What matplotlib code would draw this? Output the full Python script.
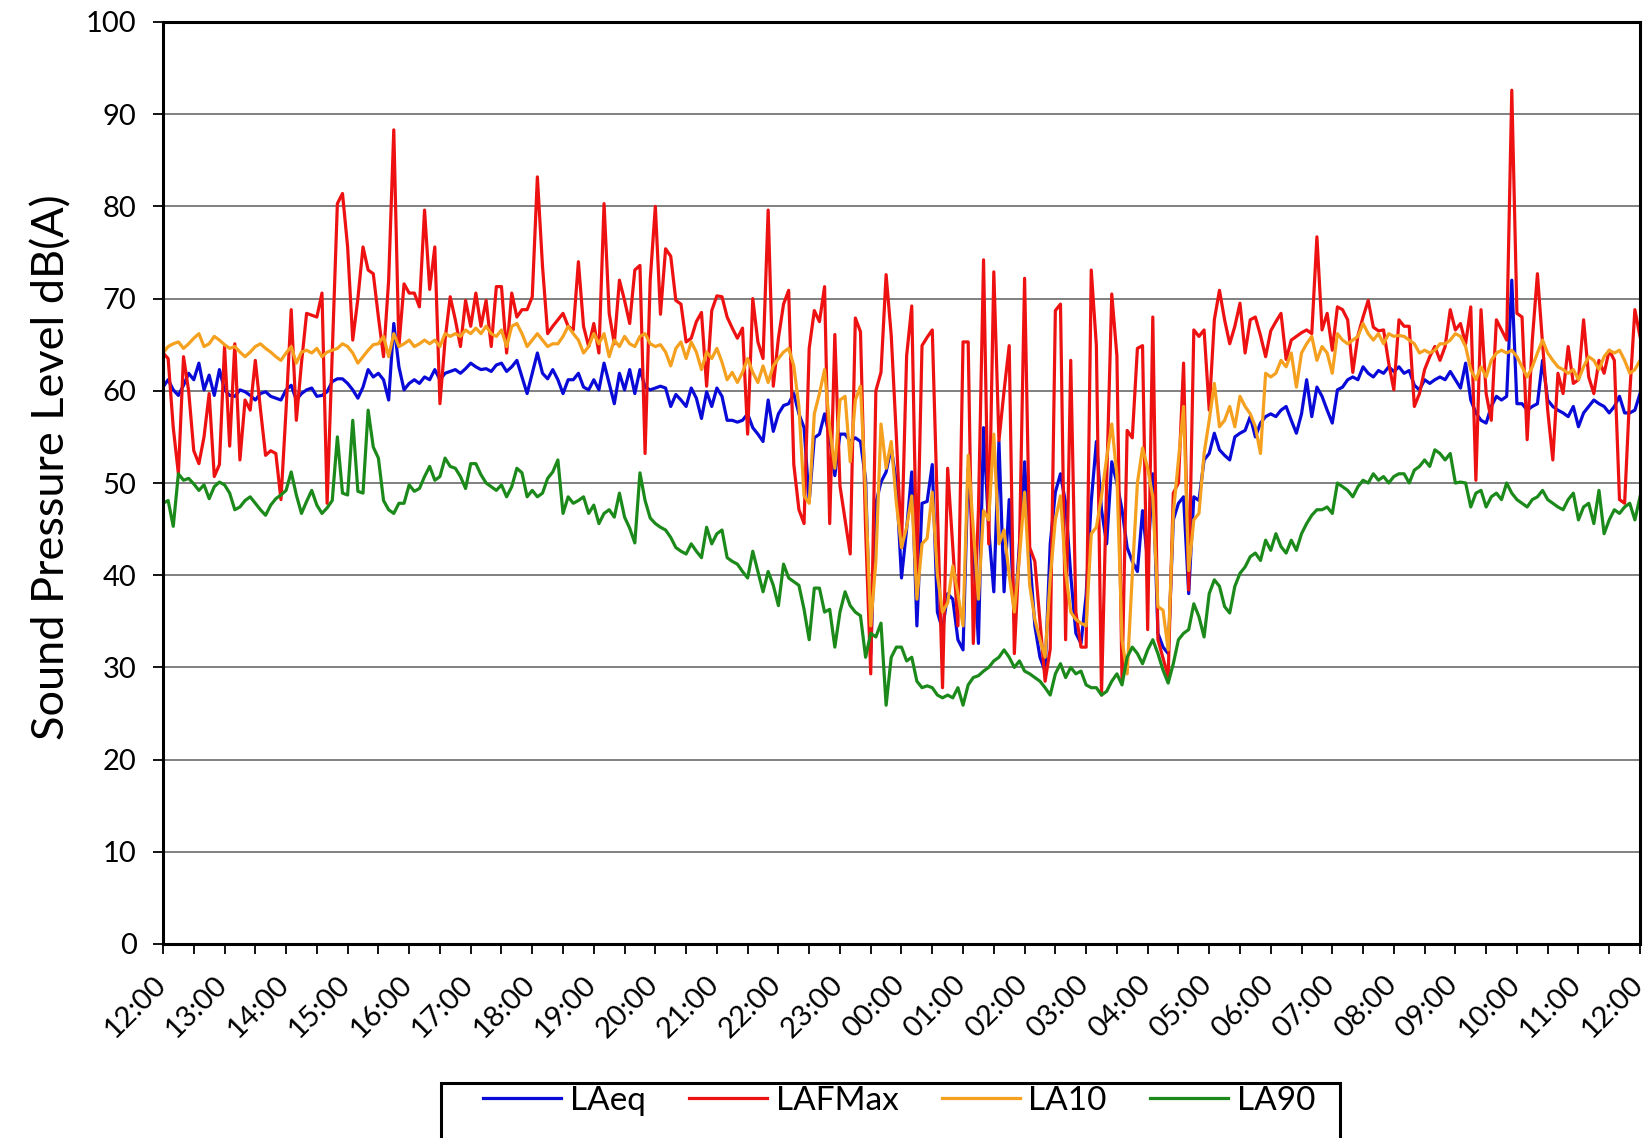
import numpy as np
import matplotlib.pyplot as plt
import matplotlib.transforms as mtransforms
from matplotlib.patches import Rectangle
from matplotlib.ticker import MultipleLocator

plt.rcParams['font.family'] = ['Lato', 'DejaVu Sans']

# 5-minute readings from 12:00 to 12:00 next day, one row per hour
laeq = [
    60.4, 61.2, 60.1, 59.5, 60.6, 61.9, 61.2, 63.0, 60.1, 61.7, 59.5, 62.3,
    60.1, 59.5, 59.4, 60.1, 59.9, 59.5, 59.0, 59.7, 59.9, 59.4, 59.2, 59.0,
    60.1, 60.6, 59.0, 59.7, 60.1, 60.3, 59.4, 59.5, 59.9, 61.0, 61.3, 61.3,
    60.8, 60.1, 59.2, 60.4, 62.3, 61.5, 61.9, 61.2, 59.0, 67.3, 62.6, 60.1,
    60.8, 61.2, 60.8, 61.5, 61.2, 62.3, 61.2, 61.9, 62.1, 62.3, 61.9, 62.4,
    63.0, 62.6, 62.3, 62.4, 62.1, 62.8, 63.0, 62.1, 62.6, 63.3, 61.5, 59.7,
    61.9, 64.1, 61.9, 61.3, 62.3, 61.2, 59.7, 61.2, 61.2, 61.9, 60.4, 60.1,
    61.2, 60.1, 63.0, 60.8, 58.6, 61.9, 60.1, 62.3, 59.7, 62.3, 60.4, 60.1,
    60.3, 60.5, 60.3, 58.3, 59.6, 59.0, 58.3, 60.3, 59.2, 57.0, 59.9, 58.3,
    60.3, 59.4, 56.8, 56.8, 56.6, 56.8, 57.5, 56.0, 55.3, 54.5, 59.0, 55.6,
    57.5, 58.4, 58.6, 59.7, 57.5, 56.0, 48.0, 54.9, 55.3, 57.5, 54.9, 50.8,
    55.3, 55.3, 54.5, 54.9, 54.5, 50.4, 31.5, 47.8, 50.1, 51.2, 53.8, 50.1,
    39.7, 45.0, 51.2, 34.5, 47.8, 48.0, 52.0, 36.0, 34.1, 38.0, 37.4, 33.0,
    31.9, 51.6, 43.4, 32.6, 56.0, 45.0, 38.2, 54.5, 38.2, 48.2, 34.9, 43.4,
    52.3, 42.0, 34.5, 31.1, 29.6, 43.4, 49.0, 51.0, 47.8, 40.0, 33.7, 32.6,
    37.8, 48.0, 54.5, 47.1, 43.4, 52.3, 50.0, 47.1, 43.0, 41.5, 40.4, 47.0,
    41.5, 51.0, 33.7, 32.2, 31.5, 46.0, 47.8, 48.5, 38.0, 48.5, 48.1, 52.5,
    53.2, 55.4, 53.6, 53.0, 52.5, 55.0, 55.4, 55.7, 57.2, 55.0, 56.5, 57.2,
    57.5, 57.2, 57.9, 58.3, 56.8, 55.4, 57.5, 61.2, 57.2, 60.4, 59.4, 57.9,
    56.5, 60.1, 60.4, 61.2, 61.5, 61.2, 62.6, 61.9, 61.5, 62.2, 61.9, 62.6,
    62.1, 62.6, 61.9, 62.2, 60.6, 60.1, 61.2, 60.8, 61.2, 61.5, 61.2, 62.1,
    61.2, 60.3, 63.0, 59.0, 57.6, 56.8, 56.5, 58.3, 59.4, 59.0, 59.4, 72.0,
    58.6, 58.6, 57.9, 58.3, 58.6, 63.3, 59.0, 58.3, 57.9, 57.6, 57.2, 58.3,
    56.1, 57.6, 58.3, 59.0, 58.6, 58.3, 57.6, 58.3, 59.4, 57.6, 57.6, 57.9,
    59.7,
]

lafmax = [
    64.1, 63.5, 56.0, 51.0, 63.7, 60.0, 53.5, 52.1, 55.0, 59.7, 50.7, 52.0,
    64.8, 54.0, 65.1, 52.5, 59.0, 57.9, 63.3, 58.0, 53.0, 53.5, 53.2, 48.2,
    58.0, 68.8, 56.8, 63.0, 68.4, 68.2, 68.0, 70.6, 47.8, 64.0, 80.3, 81.4,
    75.6, 65.5, 70.0, 75.6, 73.1, 72.7, 68.0, 63.7, 72.0, 88.3, 64.8, 71.6,
    70.6, 70.6, 69.1, 79.6, 71.0, 75.6, 58.6, 65.5, 70.2, 67.7, 64.8, 69.8,
    67.0, 70.6, 67.0, 69.8, 64.8, 71.3, 71.3, 64.1, 70.6, 68.0, 68.8, 68.8,
    70.2, 83.2, 73.5, 66.2, 67.0, 67.7, 68.4, 67.0, 66.6, 74.0, 67.0, 64.8,
    67.3, 64.1, 80.3, 68.4, 65.1, 72.0, 69.8, 67.3, 73.1, 73.6, 53.2, 72.0,
    80.0, 68.3, 75.4, 74.6, 69.8, 69.4, 65.3, 65.7, 67.5, 68.5, 60.5, 68.7,
    70.3, 70.2, 68.0, 66.8, 65.7, 66.8, 55.3, 70.0, 65.3, 63.5, 79.6, 60.5,
    65.7, 69.4, 70.9, 52.0, 47.1, 45.6, 64.6, 68.7, 67.5, 71.3, 45.6, 66.1,
    49.7, 46.0, 42.3, 67.9, 66.4, 45.0, 29.3, 60.0, 62.0, 72.6, 66.0, 55.0,
    43.0, 63.8, 69.2, 40.0, 64.9, 65.8, 66.6, 47.0, 27.8, 51.6, 43.0, 34.5,
    65.3, 65.3, 32.6, 47.0, 74.2, 43.4, 72.9, 54.6, 60.0, 64.9, 31.5, 43.0,
    72.2, 43.0, 41.5, 35.0, 28.5, 32.0, 68.7, 69.4, 33.0, 63.3, 36.0, 32.2,
    32.2, 73.1, 64.9, 27.0, 50.0, 70.5, 63.8, 28.5, 55.7, 54.9, 64.6, 64.9,
    34.1, 68.0, 33.0, 31.0, 29.0, 48.9, 50.0, 63.0, 38.4, 66.6, 65.9, 66.6,
    57.9, 67.7, 70.9, 67.7, 65.1, 67.0, 69.5, 64.1, 67.7, 68.0, 66.0, 63.7,
    66.5, 67.5, 68.4, 63.4, 65.5, 65.9, 66.3, 66.6, 66.2, 76.7, 66.6, 68.4,
    64.4, 69.1, 68.8, 67.7, 62.0, 66.0, 68.0, 69.8, 66.9, 66.5, 66.6, 63.0,
    60.1, 67.7, 67.0, 67.0, 58.3, 59.7, 62.3, 63.7, 64.8, 63.3, 64.8, 68.8,
    66.6, 67.3, 65.1, 69.1, 50.3, 68.8, 59.7, 56.8, 67.7, 66.6, 65.5, 92.6,
    68.4, 68.0, 54.7, 65.5, 72.7, 65.1, 57.9, 52.5, 61.9, 59.7, 64.8, 60.8,
    61.2, 67.7, 61.5, 59.7, 63.3, 61.9, 64.4, 63.3, 48.2, 47.8, 59.7, 68.8,
    65.9,
]

la10 = [
    64.1, 64.8, 65.1, 65.3, 64.6, 65.1, 65.7, 66.2, 64.8, 65.1, 65.9, 65.5,
    65.0, 64.6, 64.8, 64.2, 63.7, 64.2, 64.8, 65.1, 64.6, 64.2, 63.7, 63.3,
    64.1, 64.8, 63.0, 64.2, 64.4, 64.1, 64.6, 63.7, 64.2, 64.4, 64.6, 65.1,
    64.8, 64.1, 63.0, 63.7, 64.4, 65.0, 65.1, 65.9, 63.7, 66.2, 64.8, 65.1,
    65.5, 64.8, 65.1, 65.5, 65.1, 65.5, 64.8, 66.2, 65.9, 66.2, 65.9, 66.6,
    66.2, 66.8, 66.2, 67.0, 66.2, 65.9, 66.6, 64.8, 67.0, 67.3, 66.2, 64.8,
    65.5, 66.2, 65.5, 64.8, 65.1, 65.1, 65.9, 67.0, 66.2, 65.5, 64.1, 64.8,
    66.2, 65.1, 66.2, 63.7, 65.5, 64.8, 65.9, 65.1, 64.8, 65.9, 66.2, 65.1,
    64.8, 65.0, 64.2, 62.7, 64.6, 65.3, 63.5, 65.3, 64.2, 62.3, 64.2, 63.5,
    64.6, 63.1, 61.2, 62.0, 60.9, 62.0, 63.5, 62.0, 60.9, 62.7, 60.9, 62.7,
    63.5, 64.2, 64.6, 62.7, 58.3, 48.6, 47.8, 57.5, 59.7, 62.3, 56.0, 51.6,
    59.0, 59.4, 52.3, 59.0, 60.5, 49.0, 34.5, 41.5, 56.4, 51.6, 54.5, 47.8,
    43.0, 45.2, 48.6, 37.4, 43.4, 44.0, 49.0, 40.0, 36.0, 37.0, 41.0, 38.0,
    34.5, 53.0, 45.0, 37.4, 47.0, 46.0, 55.3, 43.4, 44.9, 40.0, 36.0, 42.0,
    49.0, 38.9, 35.2, 33.0, 31.1, 39.7, 46.0, 48.6, 40.4, 36.0, 35.2, 34.8,
    34.5, 44.5, 45.2, 48.6, 52.7, 56.4, 50.8, 33.0, 29.3, 40.0, 50.0, 53.8,
    51.6, 48.5, 36.6, 36.2, 31.9, 46.7, 52.5, 58.3, 40.5, 46.0, 46.7, 53.2,
    56.8, 60.8, 56.1, 56.8, 58.3, 56.1, 59.4, 58.3, 57.5, 56.1, 53.2, 61.9,
    61.5, 61.9, 63.3, 62.6, 64.1, 60.4, 64.1, 65.1, 65.9, 63.3, 64.8, 64.1,
    61.9, 66.2, 65.5, 65.1, 65.5, 65.9, 67.3, 66.2, 65.5, 66.2, 65.1, 66.2,
    65.9, 66.0, 65.9, 65.5, 65.1, 64.1, 64.4, 64.1, 64.4, 65.1, 65.1, 65.5,
    66.2, 65.9, 64.8, 62.3, 61.2, 62.6, 61.5, 63.3, 64.1, 64.4, 64.1, 64.4,
    63.7, 62.6, 61.5, 62.6, 64.1, 65.5, 64.1, 63.3, 62.6, 62.3, 61.9, 62.3,
    61.2, 62.6, 63.7, 63.3, 62.3, 63.7, 64.4, 64.1, 64.4, 63.3, 61.9, 62.3,
    63.3,
]

la90 = [
    47.8, 48.1, 45.3, 51.0, 50.3, 50.5, 49.9, 49.2, 49.8, 48.3, 49.6, 50.1,
    49.8, 48.9, 47.1, 47.4, 48.1, 48.5, 47.8, 47.1, 46.5, 47.6, 48.3, 48.7,
    49.2, 51.2, 48.7, 46.7, 48.0, 49.2, 47.6, 46.7, 47.3, 48.1, 55.0, 48.9,
    48.7, 56.8, 49.1, 48.9, 57.9, 53.9, 52.7, 48.1, 47.1, 46.7, 47.8, 47.8,
    49.8, 49.1, 49.4, 50.7, 51.8, 50.3, 50.7, 52.7, 51.8, 51.6, 50.7, 49.4,
    52.1, 52.1, 50.9, 50.0, 49.6, 49.2, 49.8, 48.5, 49.6, 51.6, 51.1, 48.5,
    49.2, 48.5, 48.9, 50.5, 51.2, 52.5, 46.7, 48.5, 47.8, 48.1, 48.5, 46.7,
    47.6, 45.6, 46.7, 47.1, 46.3, 48.9, 46.3, 45.1, 43.5, 51.1, 48.1, 46.2,
    45.6, 45.2, 44.9, 44.1, 43.0, 42.6, 42.3, 43.4, 42.6, 41.9, 45.2, 43.4,
    44.5, 44.9, 41.9, 41.5, 41.2, 40.4, 39.7, 42.6, 40.4, 38.2, 40.4, 38.9,
    36.7, 41.2, 39.7, 39.3, 38.9, 36.3, 33.0, 38.6, 38.6, 36.0, 36.3, 32.2,
    36.0, 38.2, 36.7, 36.0, 35.6, 31.1, 33.7, 33.3, 34.8, 25.9, 31.1, 32.2,
    32.2, 30.7, 31.1, 28.5, 27.8, 28.0, 27.8, 27.0, 26.7, 27.0, 26.7, 27.8,
    25.9, 28.1, 28.9, 29.1, 29.6, 30.0, 30.7, 31.1, 31.9, 31.1, 30.0, 30.7,
    29.6, 29.3, 28.9, 28.5, 27.8, 27.0, 29.3, 30.4, 28.9, 30.0, 29.3, 29.6,
    28.1, 27.8, 27.8, 27.0, 27.4, 28.5, 29.3, 28.1, 31.1, 32.2, 31.5, 30.4,
    31.9, 33.0, 31.5, 29.7, 28.3, 30.4, 33.0, 33.7, 34.1, 36.9, 35.5, 33.3,
    38.0, 39.5, 38.8, 36.6, 35.9, 38.8, 40.2, 40.9, 42.0, 42.4, 41.6, 43.8,
    42.7, 44.5, 43.1, 42.4, 43.8, 42.7, 44.5, 45.6, 46.5, 47.1, 47.1, 47.4,
    46.7, 50.0, 49.6, 49.2, 48.5, 49.6, 50.3, 50.0, 51.0, 50.3, 50.7, 50.0,
    50.7, 51.0, 51.0, 50.0, 51.4, 51.8, 52.5, 51.8, 53.6, 53.2, 52.5, 53.2,
    50.0, 50.1, 50.0, 47.4, 48.9, 49.2, 47.4, 48.5, 48.9, 48.2, 50.0, 48.9,
    48.2, 47.8, 47.4, 48.2, 48.5, 49.2, 48.2, 47.8, 47.4, 47.1, 48.2, 48.9,
    46.0, 47.4, 47.8, 45.6, 49.2, 44.5, 46.0, 47.1, 46.7, 47.4, 47.8, 46.0,
    48.5,
]

hourLabels = ['12:00', '13:00', '14:00', '15:00', '16:00', '17:00', '18:00',
              '19:00', '20:00', '21:00', '22:00', '23:00', '00:00', '01:00',
              '02:00', '03:00', '04:00', '05:00', '06:00', '07:00', '08:00',
              '09:00', '10:00', '11:00', '12:00']

fig = plt.figure(figsize=(16.49, 11.38), dpi=100)
ax = fig.add_axes([163 / 1649, 194 / 1138, 1477 / 1649, 922 / 1138])

t = np.arange(len(laeq)) * 5 / 60  # hours after 12:00
ax.plot(t, laeq, color='#0a0ad8', lw=2.3, label='LAeq')
ax.plot(t, lafmax, color='#ee1111', lw=2.3, label='LAFMax')
ax.plot(t, la10, color='#f5a01e', lw=2.3, label='LA10')
ax.plot(t, la90, color='#1b8a1b', lw=2.3, label='LA90')

ax.set_xlim(0, 24)
ax.set_ylim(0, 100)
ax.set_yticks(range(0, 101, 10))
ax.yaxis.grid(True, color='#808080', lw=1.4)
ax.set_axisbelow(True)

ax.set_xticks(np.arange(25))
ax.set_xticklabels(hourLabels, rotation=45, ha='right', va='center',
                   rotation_mode='anchor')
ax.xaxis.set_minor_locator(MultipleLocator(0.5))
ax.tick_params(axis='both', which='both', direction='out', length=7,
               width=1.3, labelsize=21)
ax.tick_params(axis='y', pad=12)
ax.tick_params(axis='x', pad=19)
# keep the last slanted label inside the figure
shift = mtransforms.ScaledTranslation(-1.5 / 100, 0, fig.dpi_scale_trans)
for lbl in ax.get_xticklabels():
    lbl.set_transform(lbl.get_transform() + shift)
for sp in ax.spines.values():
    sp.set_linewidth(2.2)
    sp.set_color('black')

fig.text(52 / 1649, 1 - 467 / 1138, 'Sound Pressure Level dB(A)',
         rotation=90, ha='center', va='center', fontsize=32.5)

# legend entries without their own frame; the box is drawn separately so it
# can run past the bottom edge like in the original
leg = fig.legend(loc='upper left', bbox_to_anchor=(483 / 1649, 1 - 1086 / 1138),
                 ncol=4, frameon=False, fontsize=24, handlelength=2.35,
                 handletextpad=0.25, columnspacing=1.3, borderpad=0,
                 borderaxespad=0)
fig.add_artist(Rectangle((441 / 1649, -0.02), 899 / 1649, 55 / 1138 + 0.02,
                         transform=fig.transFigure, fill=False,
                         edgecolor='black', lw=2.2, clip_on=False))

fig.savefig('out.png', dpi=100)
